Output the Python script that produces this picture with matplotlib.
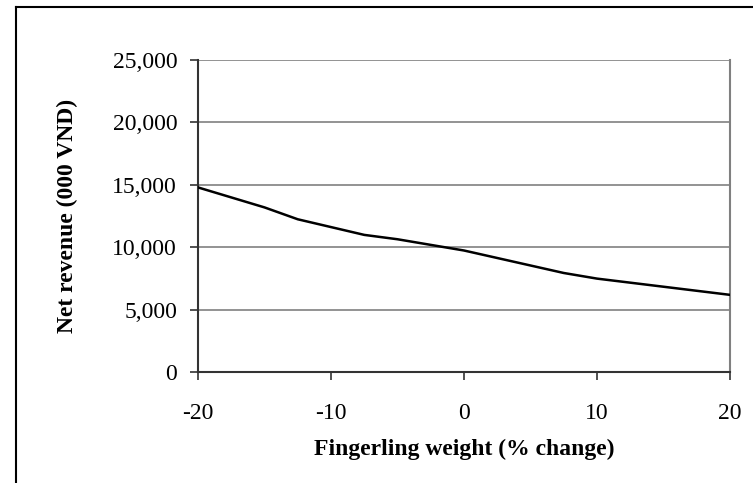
import matplotlib.pyplot as plt
from matplotlib.lines import Line2D
from matplotlib.ticker import FuncFormatter

# Data
weight_change = [-20, -15, -12.5, -7.5, -5, 0, 7.5, 10, 20]
net_revenue = [14800, 13200, 12250, 11000, 10650, 9750, 7950, 7500, 6200]

x_ticks = [-20, -10, 0, 10, 20]
y_ticks = [0, 5000, 10000, 15000, 20000, 25000]

plt.rcParams['font.family'] = ['Liberation Serif', 'DejaVu Serif']
plt.rcParams['axes.unicode_minus'] = False

fig = plt.figure(figsize=(7.53, 4.83), dpi=100)
ax = fig.add_axes([198 / 753, 1 - 372.3 / 483, (730 - 198) / 753, (372.3 - 60) / 483])

ax.plot(weight_change, net_revenue, color='black', linewidth=1.8, zorder=3)

ax.set_xlim(-20, 20)
ax.set_ylim(0, 25000)
ax.set_xticks(x_ticks)
ax.set_yticks(y_ticks)
ax.yaxis.set_major_formatter(FuncFormatter(lambda v, p: f'{int(v):,}'))

ax.grid(axis='y', color='#808080', linewidth=1.2, zorder=1)
ax.set_axisbelow(True)

ax.spines['top'].set_visible(False)
ax.spines['right'].set_color('#808080')
ax.spines['right'].set_linewidth(1.5)
for s in ['left', 'bottom']:
    ax.spines[s].set_color('#333333')
    ax.spines[s].set_linewidth(1.5)

ax.tick_params(axis='both', direction='out', length=6, width=1.2, color='#333333', labelsize=17)
ax.tick_params(axis='x', pad=16)
ax.tick_params(axis='y', pad=9)

ax.set_xlabel('Fingerling weight (% change)', fontsize=17, fontweight='bold', labelpad=11)
ax.set_ylabel('Net revenue (000 VND)', fontsize=17, fontweight='bold', labelpad=25)

# outer frame (left and top edges visible, cut off at the right and bottom)
fx = 16 / 753
fy = 1 - 7 / 483
fig.add_artist(Line2D([fx, fx], [0, fy], transform=fig.transFigure, color='black', linewidth=1.5))
fig.add_artist(Line2D([fx, 1], [fy, fy], transform=fig.transFigure, color='black', linewidth=1.5))

fig.savefig('out.png', dpi=100)
